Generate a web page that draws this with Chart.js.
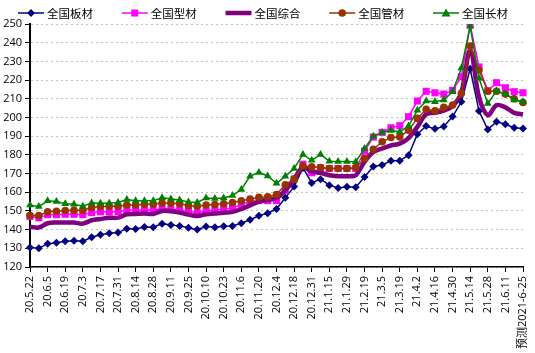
<!DOCTYPE html>
<html>
<head>
<meta charset="utf-8">
<script src="https://cdn.jsdelivr.net/npm/chart.js@4.4.1/dist/chart.umd.min.js"></script>
<style>
    html, body { margin: 0; padding: 0; background: #fff; }
</style>
</head>
<body>
<canvas id="graficoPrecos" width="535" height="353"></canvas>
<script>
// Tick labels (every second week is labelled)
const tickLabels = ['20.5.22', '20.6.5', '20.6.19', '20.7.3', '20.7.17', '20.7.31', '20.8.14', '20.8.28',
    '20.9.11', '20.9.25', '20.10.10', '20.10.23', '20.11.6', '20.11.20', '20.12.4', '20.12.18', '20.12.31',
    '21.1.15', '21.1.29', '21.2.19', '21.3.5', '21.3.19', '21.4.2', '21.4.16', '21.4.30', '21.5.14',
    '21.5.28', '21.6.11', '预测2021-6-25'];

const seriesNames = ['全国板材', '全国型材', '全国综合', '全国管材', '全国长材'];

const banCai = [130.4, 130, 132.5, 133, 133.8, 134, 133.8, 135.9, 137.3, 138, 138.4, 140.5, 140.3, 141.4,
    141.3, 143.2, 142.5, 142, 141, 140, 141.7, 141.3, 141.8, 142, 143.4, 145.3, 147.4, 148.8, 151,
    157, 163, 173, 165, 167, 163.8, 162.3, 162.9, 162.7, 168.2, 173.8, 174.6, 176.8, 176.8, 179.8,
    191, 195.4, 193.9, 195.2, 200.5, 208.4, 226, 203.4, 193.6, 197.7, 196.4, 194.5, 194.1];

const xingCai = [147, 146.3, 148, 148, 148.2, 148.2, 148, 149.1, 149.5, 149.5, 149.6, 150.4, 150.4, 150.5,
    150.4, 151.3, 150.9, 150.6, 149.8, 149, 150, 150.5, 150.9, 151.6, 153.5, 155, 155.5, 155.5, 155.5,
    161, 167, 175, 170.4, 173, 172.7, 172.7, 172.7, 172.7, 182, 189.5, 192, 194.5, 195.6, 200.4,
    208.8, 214, 213.2, 212.5, 214.5, 221.8, 249.5, 227, 214.3, 218.6, 215.9, 213.8, 213.2];

const zongHe = [141.6, 141.1, 143.4, 143.8, 143.8, 143.8, 143.2, 145, 145.7, 146.3, 146.4, 148.2, 148.4, 148.6,
    148.4, 150, 149.8, 149.1, 148, 147.3, 148.2, 148.6, 149, 149.5, 151, 153, 155, 156, 157,
    161, 167, 173.5, 171, 170.4, 169.1, 168.6, 168.6, 169.1, 176.3, 181.5, 183.4, 185, 186, 189,
    195, 201.7, 202.5, 203.7, 206, 213.5, 236, 211, 201.2, 206.6, 205.4, 202.5, 201.6];

const guanCai = [147.5, 147.5, 149.5, 149.8, 150.2, 150.4, 150.4, 151.8, 152.3, 152.5, 152.5, 153.2, 153.2, 153.6,
    153.6, 154.3, 154.1, 153.9, 152.8, 152.5, 153.2, 153.4, 153.8, 154.5, 155.4, 156.3, 157.3, 157.5, 158.8,
    164, 167, 174, 173.6, 173.2, 172.7, 172.7, 172.7, 173.2, 178, 183, 187, 189.3, 189.6, 193.2,
    199.5, 204.3, 203.6, 205.4, 206.6, 212.9, 238.2, 225.4, 214, 214, 212.5, 210, 208];

const changCai = [153.2, 152.3, 155.4, 155, 153.9, 153.6, 152.5, 154.3, 154.1, 154.1, 154.5, 156.1, 155.4, 155.4,
    155.4, 157.1, 156.4, 155.9, 154.8, 154.5, 156.9, 156.6, 156.9, 158.2, 161.5, 168.6, 170.6, 168.7, 164.8,
    168.5, 172.7, 180.2, 177.1, 180.2, 176.6, 176.5, 176.5, 176.3, 183.4, 190, 192, 193, 192.3, 195.4,
    203.9, 208.8, 208.4, 209.3, 213.8, 226.5, 248.8, 221, 207.5, 214.2, 212.5, 209.4, 208.4];

const yTicks = { min: 120, max: 250, step: 10 };

(function() {
    'use strict';

    // weekly categories, a label on every second one
    const categories = [];
    tickLabels.forEach(function(t, k) {
        categories.push(t);
        if (k < tickLabels.length - 1) categories.push('');
    });

    // small line + marker sample for the legend
    function drawIcon(g, x, y, color, shape) {
        g.save();
        g.strokeStyle = color;
        g.fillStyle = color;
        g.lineWidth = shape ? 1.5 : 4.5;
        g.beginPath();
        g.moveTo(x, y);
        g.lineTo(x + 26, y);
        g.stroke();
        const cx = x + 13;
        g.beginPath();
        if (shape === 'diamond') {
            g.moveTo(cx, y - 4); g.lineTo(cx + 4, y); g.lineTo(cx, y + 4); g.lineTo(cx - 4, y);
        } else if (shape === 'square') {
            g.rect(cx - 3.5, y - 3.5, 7, 7);
        } else if (shape === 'circle') {
            g.arc(cx, y, 3.8, 0, Math.PI * 2);
        } else if (shape === 'triangle') {
            g.moveTo(cx, y - 4.5); g.lineTo(cx + 4.5, y + 3.5); g.lineTo(cx - 4.5, y + 3.5);
        }
        g.closePath();
        if (shape) g.fill();
        g.restore();
    }

    const estilos = [
        { data: banCai, color: '#000080', point: 'rectRot', radius: 4, width: 1.5, icon: 'diamond', order: 4 },
        { data: xingCai, color: '#FF00FF', point: 'rect', radius: 5, width: 1.5, icon: 'square', order: 3 },
        { data: zongHe, color: '#800080', point: 'circle', radius: 0, width: 4.5, icon: null, order: 2 },
        { data: guanCai, color: '#993300', point: 'circle', radius: 3.8, width: 1.5, icon: 'circle', order: 1 },
        { data: changCai, color: '#008000', point: 'triangle', radius: 4.5, width: 1.5, icon: 'triangle', order: 0 }
    ];

    const datasets = estilos.map(function(s, i) {
        return {
            label: seriesNames[i],
            data: s.data,
            borderColor: s.color,
            backgroundColor: s.color,
            borderWidth: s.width,
            pointStyle: s.point,
            pointRadius: s.radius,
            pointBorderWidth: 0,
            pointBackgroundColor: s.color,
            tension: s.icon ? 0 : 0.35,
            order: s.order
        };
    });

    // legend row drawn above the plot
    const legendaTopo = {
        id: 'legendaTopo',
        afterDraw: function(chart) {
            const g = chart.ctx;
            g.save();
            g.font = '11.5px "Noto Sans CJK SC", sans-serif';
            g.fillStyle = '#000';
            g.textBaseline = 'middle';
            g.textAlign = 'left';
            chart.data.datasets.forEach(function(ds, i) {
                const x = 18 + i * 103.75;
                drawIcon(g, x, 13, ds.borderColor, estilos[i].icon);
                g.fillText(ds.label, x + 29, 13.5);
            });
            g.restore();
        }
    };

    const labelFont = { family: '"Open Sans", "Noto Sans CJK SC", sans-serif', size: 11 };

    new Chart(document.getElementById('graficoPrecos'), {
        type: 'line',
        data: { labels: categories, datasets: datasets },
        plugins: [legendaTopo],
        options: {
            responsive: false,
            animation: false,
            devicePixelRatio: 1,
            layout: { padding: { left: 0, right: 12, top: 24, bottom: 0 } },
            plugins: {
                tooltip: { enabled: false },
                legend: { display: false }
            },
            scales: {
                x: {
                    offset: false,
                    afterBuildTicks: function(scale) {
                        scale.ticks = scale.ticks.filter(function(t) { return t.value % 2 === 0; });
                    },
                    afterFit: function(scale) {
                        scale.height = 86;
                        scale.paddingRight = 0;
                    },
                    ticks: {
                        autoSkip: false,
                        maxRotation: 90,
                        minRotation: 90,
                        padding: 4,
                        color: '#000',
                        font: labelFont
                    },
                    grid: {
                        drawOnChartArea: false,
                        drawTicks: true,
                        tickLength: 5,
                        tickColor: '#000'
                    },
                    border: { color: '#000', width: 1.5 }
                },
                y: {
                    min: yTicks.min,
                    max: yTicks.max,
                    afterFit: function(scale) { scale.width = 30; },
                    ticks: {
                        stepSize: yTicks.step,
                        padding: 3,
                        color: '#000',
                        font: labelFont
                    },
                    grid: {
                        color: '#c0c0c0',
                        lineWidth: 1,
                        tickLength: 5,
                        tickColor: '#000'
                    },
                    border: { color: '#000', width: 2, dash: [2, 3] }
                }
            }
        }
    });
})();
</script>
</body>
</html>
